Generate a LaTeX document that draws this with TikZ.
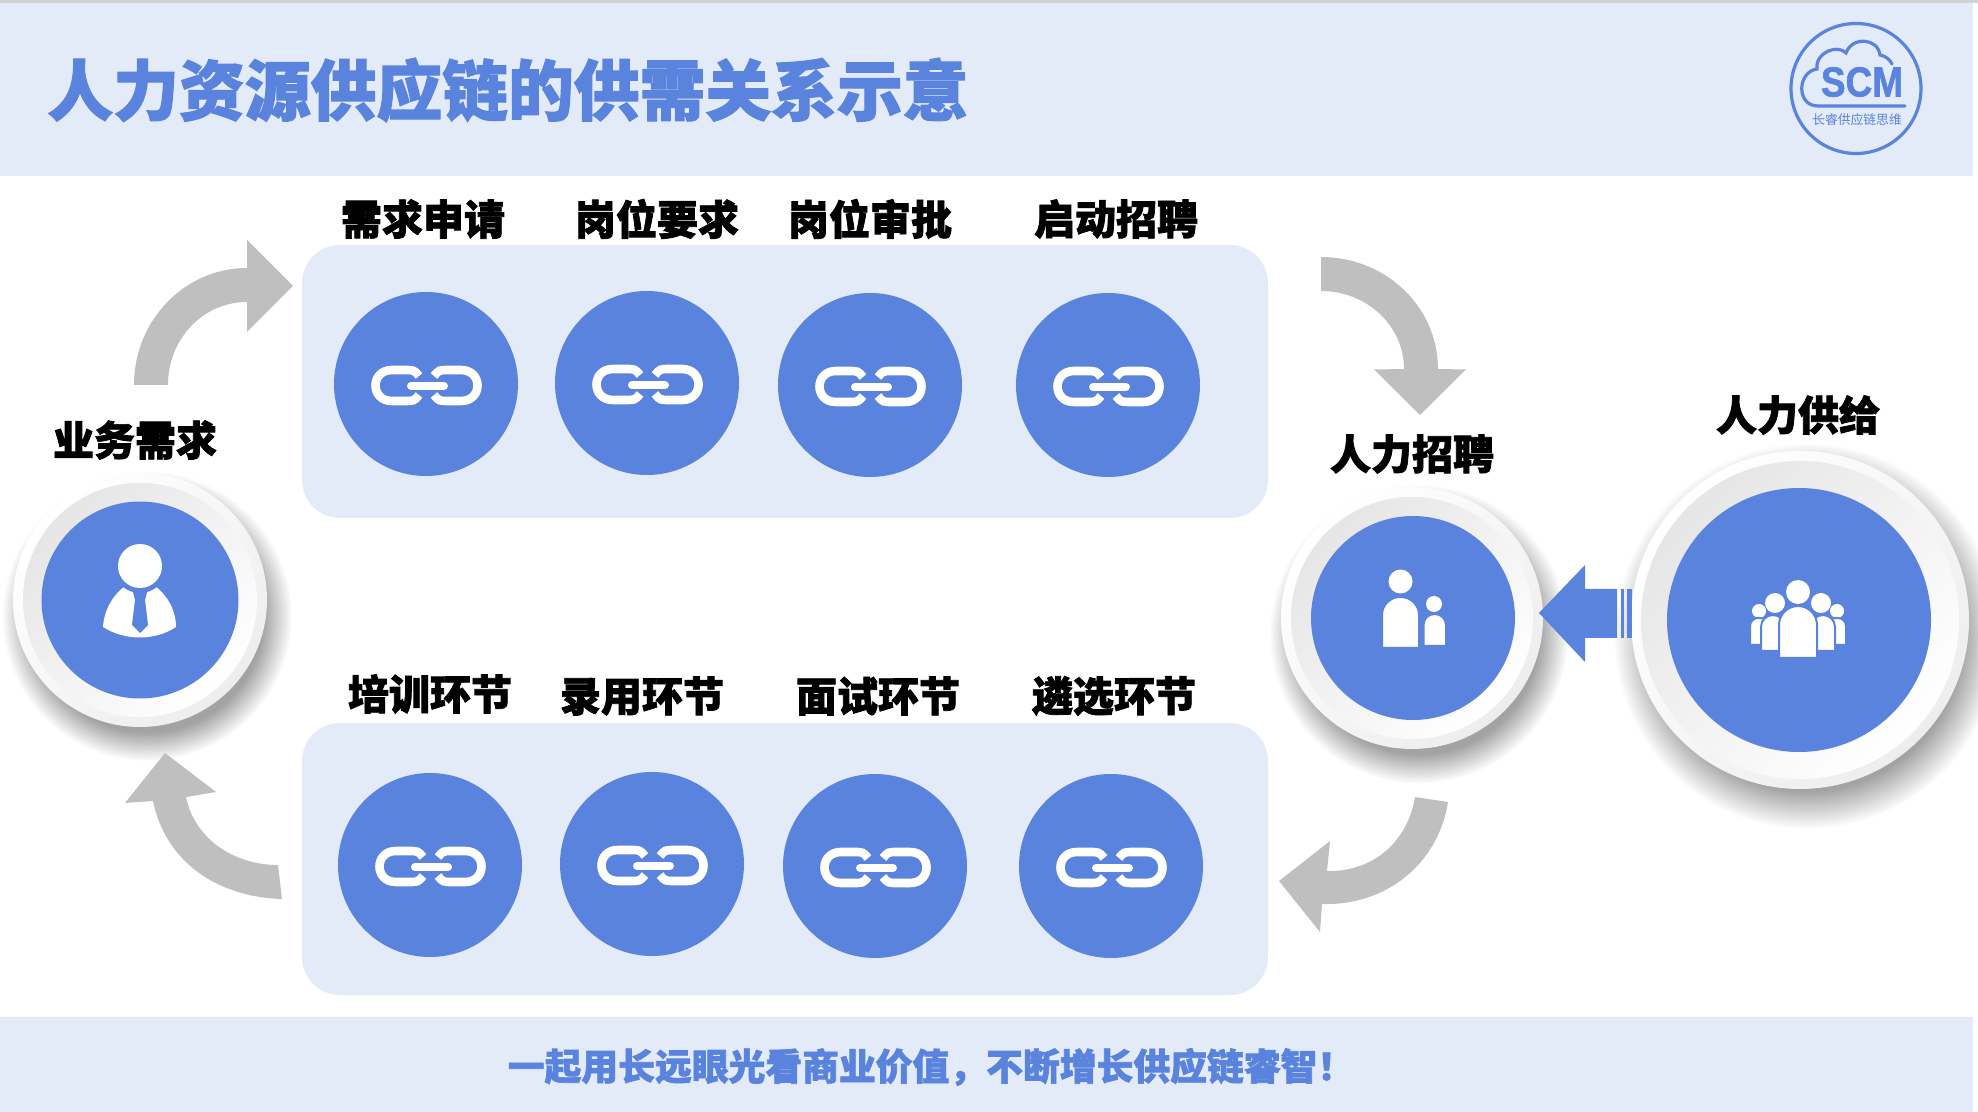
\documentclass[tikz,border=0pt]{standalone}
\usepackage{fontspec}
\usetikzlibrary{shadows,fadings}
\newfontfamily\heavyfont{Noto Sans CJK SC}[BoldFeatures={FakeBold=1.8}]
\newfontfamily\scmfont{Liberation Sans}[BoldFeatures={FakeBold=1.5}]
\definecolor{hubblue}{HTML}{5983DD}
\definecolor{bandblue}{HTML}{E4EBF8}
\definecolor{arrowgrey}{HTML}{BFBFBF}
\newcommand{\figbody}[5]{\fill[white,draw=hubblue,line width=1pt] (#1,#4) [rounded corners=#5pt] -- (#1,#3) -- (#2,#3) [sharp corners] -- (#2,#4) -- cycle;}
\tikzset{
  tag/.style={font=\heavyfont\bfseries\fontsize{20.5}{20.5}\selectfont,text=black,inner sep=0pt},
  band/.style={fill=bandblue,draw=none},
  panel/.style={fill=bandblue,draw=none,rounded corners=19pt},
  linkhub/.style={circle,fill=hubblue,draw=none,minimum size=92pt,inner sep=0pt},
  bevel/.style={circle,draw=none,inner sep=0pt,minimum size=#1,top color=white,middle color=white,bottom color=black!7,shading angle=45,
    circular drop shadow={shadow xshift=3pt,shadow yshift=-7pt,shadow scale=1.14,opacity=.36,fill=black,path fading={circle with fuzzy edge 20 percent}}},
  dent/.style={circle,draw=none,inner sep=0pt,minimum size=#1,top color=black!10,middle color=black!2,bottom color=white,shading angle=45},
  bighub/.style={circle,fill=hubblue,draw=none,inner sep=0pt,minimum size=#1},
  greyarrow/.style={fill=arrowgrey,draw=none},
  chainlink/.pic={
    \draw[white,line width=4.3pt]
      (-7,-8) .. controls (-12,-14) .. (-22,-14) -- (-34,-14) .. controls (-56,-14) and (-56,17) .. (-34,17) -- (-22,17) .. controls (-12,17) .. (-7,11);
    \draw[white,line width=4.3pt]
      (8,-8) .. controls (13,-14) .. (23,-14) -- (35,-14) .. controls (57,-14) and (57,17) .. (35,17) -- (23,17) .. controls (13,17) .. (8,11);
    \draw[white,line width=4pt,line cap=round] (-15,2) -- (18,2);
  }
}
\begin{document}
\begin{tikzpicture}[x=0.5pt,y=-0.5pt]
    \useasboundingbox (0,0) rectangle (1978,1112);
    \fill[black!18] (0,0) rectangle (1978,3);
    \fill[band] (0,3) rectangle (1973,176);
    \fill[band] (0,1017) rectangle (1973,1112);
    \node[anchor=west,inner sep=0pt,text=hubblue,font=\heavyfont\bfseries\fontsize{32.9}{32.9}\selectfont] (title) at (47,90) {人力资源供应链的供需关系示意};
    \node[inner sep=0pt,text=hubblue,font=\heavyfont\bfseries\fontsize{18.4}{18.4}\selectfont] (slogan) at (931,1067) {一起用长远眼光看商业价值\symbol{"FF0C}不断增长供应链睿智\symbol{"FF01}};

    \node[circle,draw=hubblue,line width=1.6pt,minimum size=65pt,inner sep=0pt] (logo) at (1856,88.5) {};
    \draw[hubblue,line width=1.6pt,line cap=round] (1905,106) -- (1818,106) .. controls (1796,106) and (1797,72) .. (1817,69)
      .. controls (1815,52) and (1838,44) .. (1846,53) .. controls (1852,36) and (1878,38) .. (1880,55) .. controls (1886,56) and (1890,60) .. (1892,64);
    \node[inner sep=0pt,text=hubblue,font=\scmfont\bfseries\fontsize{21}{21}\selectfont] (scm) at (1862,82) {\scalebox{.88}[1]{SCM}};
    \node[inner sep=0pt,text=hubblue,font=\heavyfont\fontsize{6.4}{6.4}\selectfont] (logotext) at (1857,119.5) {长睿供应链思维};

    \node[panel,minimum width=483pt,minimum height=136.5pt,inner sep=0pt] (toppanel) at (785,381.5) {};
    \node[panel,minimum width=483pt,minimum height=136pt,inner sep=0pt] (lowpanel) at (785,859) {};

    \node[linkhub] (apply) at (426,384) {};
    \node[linkhub] (post) at (647,383) {};
    \node[linkhub] (approve) at (870,385) {};
    \node[linkhub] (start) at (1108,385) {};
    \node[linkhub] (train) at (430,865) {};
    \node[linkhub] (hire) at (652,864) {};
    \node[linkhub] (interview) at (875,866) {};
    \node[linkhub] (select) at (1111,866) {};
    \pic at (apply) {chainlink};
    \pic at (post) {chainlink};
    \pic at (approve) {chainlink};
    \pic at (start) {chainlink};
    \pic at (train) {chainlink};
    \pic at (hire) {chainlink};
    \pic at (interview) {chainlink};
    \pic at (select) {chainlink};

    \node[tag] (applytag) at (423,219) {需求申请};
    \node[tag] (posttag) at (657,219) {岗位要求};
    \node[tag] (approvetag) at (870,219) {岗位审批};
    \node[tag] (starttag) at (1116,219) {启动招聘};
    \node[tag] (traintag) at (430,694) {培训环节};
    \node[tag] (hiretag) at (642,696) {录用环节};
    \node[tag] (interviewtag) at (878,696) {面试环节};
    \node[tag] (selecttag) at (1114,696) {遴选环节};
    \node[tag] (needtag) at (135,440) {业务需求};
    \node[tag] (recruittag) at (1412,454) {人力招聘};
    \node[tag] (supplytag) at (1798,415) {人力供给};

    \node[bevel=127pt] (needring) at (140,600) {};
    \node[dent=117pt] (needdent) at (140,600) {};
    \node[bighub=98.5pt] (need) at (140,600) {};
    \node[bevel=131pt] (recruitring) at (1412,618) {};
    \node[dent=121pt] (recruitdent) at (1412,618) {};
    \node[bighub=102pt] (recruit) at (1413,618) {};
    \node[bevel=169pt] (supplyring) at (1800,620) {};
    \node[dent=159pt] (supplydent) at (1800,620) {};
    \node[bighub=132pt] (supply) at (1799,620) {};

    \fill[white] (103,627) .. controls (104,610) and (113,595) .. (125,586) -- (155,586) .. controls (167,595) and (176,610) .. (176,627) .. controls (155,641) and (125,641) .. (103,627) -- cycle;
    \fill[hubblue] (140,566) circle (27);
    \fill[white] (140,566) circle (22);
    \fill[hubblue] (133,592) -- (147,592) -- (145,600) -- (148,625) -- (140,633) -- (132,625) -- (135,600) -- cycle;

    \fill[white] (1400.5,581.5) circle (12);
    \figbody{1382}{1419}{597}{648}{9}
    \fill[white] (1434,604) circle (8);
    \figbody{1423.5}{1446}{614}{646}{5.5}

    \fill[white] (1759,611) circle (7);
    \fill[white] (1837,611) circle (7);
    \figbody{1750}{1768}{618}{645}{4}
    \figbody{1828}{1846}{618}{645}{4}
    \fill[white] (1775,603) circle (10);
    \fill[white] (1821,603) circle (10);
    \figbody{1761}{1785}{615}{651}{6}
    \figbody{1811}{1835}{615}{651}{6}
    \fill[white] (1798,592) circle (12);
    \figbody{1779}{1817}{606}{658}{9.5}

    \fill[hubblue] (1539,613) -- (1585,565) -- (1585,589) -- (1617,589) -- (1617,638) -- (1585,638) -- (1585,662) -- cycle;
    \fill[hubblue] (1620.5,589) rectangle (1624,638);
    \fill[hubblue] (1627,589) rectangle (1632,638);

    \fill[greyarrow] (134,385) .. controls (134,320) and (185,268) .. (247,268) -- (247,240) -- (293,286) -- (247,332) -- (247,302) .. controls (203,302) and (168,339) .. (168,385) -- cycle;
    \fill[greyarrow] (1321,257) .. controls (1386,257) and (1438,307) .. (1438,369) -- (1466,369.5) -- (1420,415) -- (1374,369.5) -- (1404,369) .. controls (1404,326) and (1367,291) .. (1321,291) -- cycle;
    \fill[greyarrow] (1448,802) .. controls (1438,865) and (1385,906) .. (1322,904) -- (1320,932) -- (1279,881) -- (1330,841) -- (1327,871) .. controls (1375,872) and (1408,840) .. (1415,797) -- cycle;
    \fill[greyarrow] (282,899) .. controls (215,897) and (165,860) .. (153,801) -- (125,803) -- (165,753) -- (216,792) -- (186,797) .. controls (195,840) and (235,865) .. (278,865) -- cycle;
\end{tikzpicture}
\end{document}
